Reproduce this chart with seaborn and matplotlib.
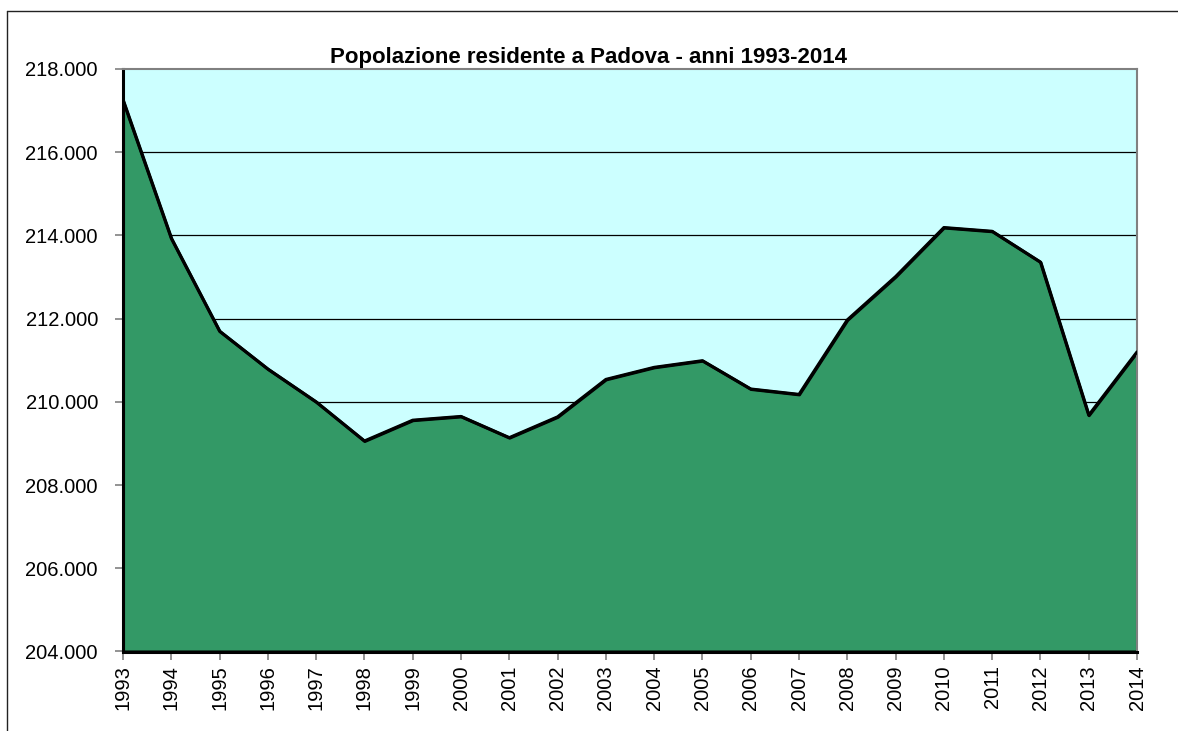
import matplotlib
matplotlib.use("Agg")
import matplotlib.pyplot as plt
import matplotlib.ticker as mticker
from matplotlib.lines import Line2D
import seaborn as sns
import pandas as pd

years = list(range(1993, 2015))
population = [217250, 213930, 211700, 210790, 210000, 209060, 209560, 209650,
              209140, 209640, 210540, 210830, 210990, 210310, 210180, 211970,
              213010, 214190, 214100, 213360, 209680, 211200]
title = "Popolazione residente a Padova - anni 1993-2014"
y_ticks = list(range(204000, 218001, 2000))

df = pd.DataFrame({"anno": years, "popolazione": population})

sns.set_style("white")
plt.rcParams["font.family"] = ["Liberation Sans", "DejaVu Sans"]
plt.rcParams["text.color"] = "black"

W, H = 1178, 731
fig = plt.figure(figsize=(W / 100, H / 100), dpi=100)
ax = fig.add_axes([123 / W, 1 - 651.5 / H, (1137 - 123) / W, (651.5 - 69) / H])
ax.set_facecolor("#CCFFFF")

for yt in y_ticks[1:-1]:
    ax.axhline(yt, color="black", lw=0.9, zorder=1)

ax.fill_between(df["anno"], df["popolazione"], y_ticks[0], facecolor="#339966",
                edgecolor="black", lw=2.2, zorder=2)
sns.lineplot(data=df, x="anno", y="popolazione", ax=ax, color="black", lw=2.2, zorder=3)

ax.set_xlim(years[0], years[-1])
ax.set_ylim(y_ticks[0], y_ticks[-1])
ax.set_xticks(years)
ax.set_xticklabels([str(y) for y in years], rotation=90)
ax.set_yticks(y_ticks)
ax.yaxis.set_major_formatter(mticker.FuncFormatter(lambda v, p: f"{v:,.0f}".replace(",", ".")))
ax.tick_params(axis="y", which="major", direction="out", length=6, width=1.2,
               color="#808080", labelcolor="black", labelsize=14.5, pad=12, left=True)
ax.tick_params(axis="x", which="major", direction="out", length=6, width=1.2,
               color="#808080", labelcolor="black", labelsize=14.5, pad=4, bottom=True)
ax.set_xlabel("")
ax.set_ylabel("")
for side in ["top", "right"]:
    ax.spines[side].set_visible(True)
    ax.spines[side].set_color("#808080")
    ax.spines[side].set_linewidth(1.5)
for side in ["left", "bottom"]:
    ax.spines[side].set_visible(True)
    ax.spines[side].set_color("black")
    ax.spines[side].set_linewidth(2.2)

fig.text(589 / W, 1 - 57 / H, title, ha="center", va="center",
         fontsize=16, fontweight="bold", color="black")

fig.add_artist(Line2D([7 / W, 1], [1 - 10.5 / H, 1 - 10.5 / H], color="#222222", lw=1))
fig.add_artist(Line2D([7 / W, 7 / W], [0, 1 - 10.5 / H], color="#222222", lw=1))

fig.savefig("out.png", dpi=100, facecolor="white")
